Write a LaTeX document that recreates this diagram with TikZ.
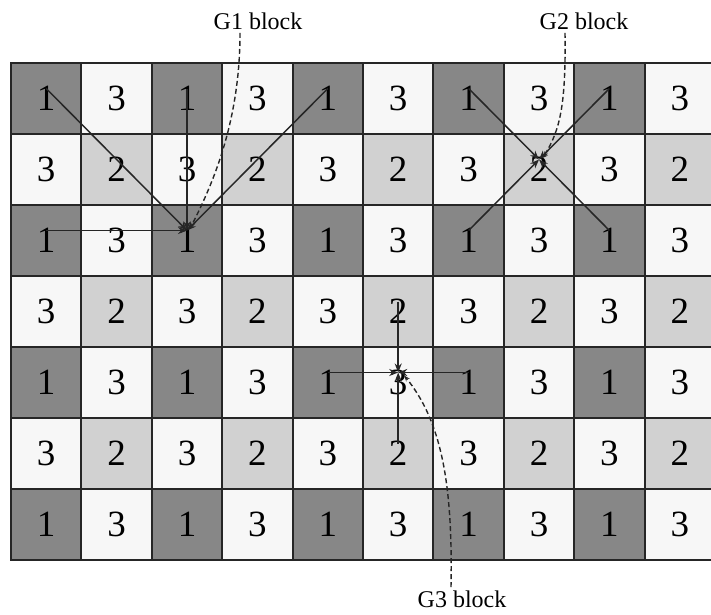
\documentclass[tikz,border=0pt]{standalone}
\usepackage{fontspec}
\setmainfont{Liberation Serif}
\usetikzlibrary{arrows.meta, calc}

\begin{document}
\begin{tikzpicture}[
    x=1pt, y=-1pt,
    >={Stealth[length=9pt, width=7pt]},
    cell/.style={draw=black!85, line width=2pt, fill=\shade,
                 minimum width=70.4pt, minimum height=71pt, inner sep=0pt,
                 font=\fontsize{37}{37}\selectfont},
    arr/.style={->, line width=1.5pt, black!85},
    lead/.style={-{Stealth[length=6pt]}, dash pattern=on 5pt off 3pt, line width=1.4pt, black!85},
    tag/.style={font=\fontsize{24}{24}\selectfont},
]
\useasboundingbox (0,0) rectangle (711,614);

% ---- Grid of cells ----
\foreach \r in {0,...,6}{
  \foreach \c in {0,...,9}{
    \pgfmathtruncatemacro{\rodd}{mod(\r,2)}
    \pgfmathtruncatemacro{\codd}{mod(\c,2)}
    \ifnum\rodd=0
      \ifnum\codd=0 \def\shade{black!47}\def\val{1}\else \def\shade{black!3}\def\val{3}\fi
    \else
      \ifnum\codd=0 \def\shade{black!3}\def\val{3}\else \def\shade{black!18}\def\val{2}\fi
    \fi
    \node[cell] (c-\r-\c) at ({11+70.4*(\c+0.5)}, {63+71*(\r+0.5)}) {\val};
    \coordinate (p-\r-\c) at ([yshift=10pt]c-\r-\c.center);
  }
}

% ---- G1 block ----
\draw[arr] (p-0-0) -- (p-2-2);
\draw[arr] (p-0-2) -- (p-2-2);
\draw[arr] (p-0-4) -- (p-2-2);
\draw[arr] (p-2-0) -- (p-2-2);

% ---- G2 block ----
\draw[arr] (p-0-6) -- (p-1-7);
\draw[arr] (p-0-8) -- (p-1-7);
\draw[arr] (p-2-6) -- (p-1-7);
\draw[arr] (p-2-8) -- (p-1-7);

% ---- G3 block ----
\draw[arr] (p-3-5) -- (p-4-5);
\draw[arr] (p-5-5) -- (p-4-5);
\draw[arr] (p-4-4) -- (p-4-5);
\draw[arr] (p-4-6) -- (p-4-5);

% ---- Labels with dashed leaders ----
\node[tag] (g1) at (258,21) {G1 block};
\node[tag] (g2) at (584,21) {G2 block};
\node[tag] (g3) at (462,599) {G3 block};

\draw[lead] ([xshift=-18pt]g1.south) .. controls ($([xshift=-18pt]g1.south)+(0,85)$) and (215,180) .. ([shift={(3pt,2pt)}]p-2-2);
\draw[lead] ([xshift=-19pt]g2.south) .. controls ($([xshift=-19pt]g2.south)+(1,72)$) and (560,130) .. ([shift={(4pt,2pt)}]p-1-7);
\draw[lead] ([xshift=-11pt]g3.north) .. controls ($([xshift=-11pt]g3.north)+(2,-108)$) and (440,420) .. ([shift={(6pt,-3pt)}]p-4-5);

\end{tikzpicture}
\end{document}
